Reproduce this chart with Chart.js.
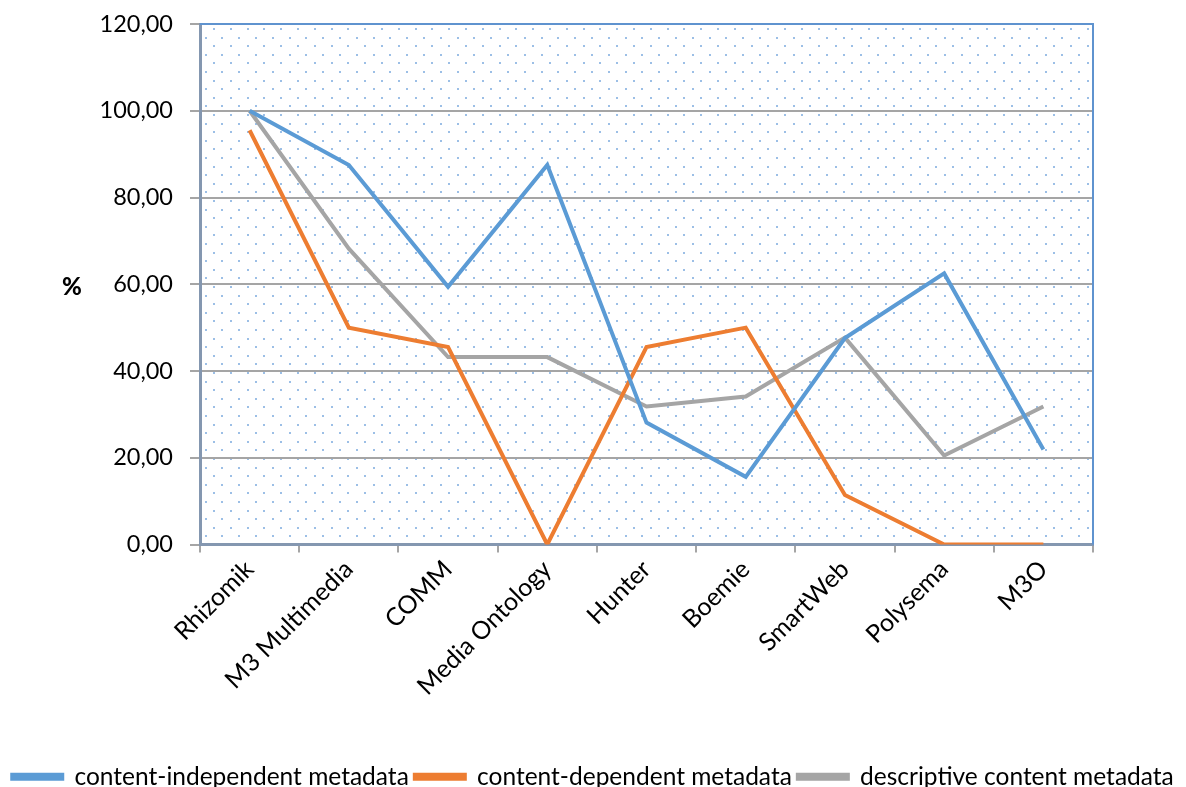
<!DOCTYPE html>
<html>
<head>
<meta charset="utf-8">
<script src="https://cdn.jsdelivr.net/npm/chart.js@4"></script>
<style>
  html, body { margin: 0; padding: 0; background: #fff; }
  #wrap { width: 1186px; height: 787px; }
</style>
</head>
<body>
<div id="wrap"><canvas id="chart"></canvas></div>
<script>
const CATEGORIES = ["Rhizomik", "M3 Multimedia", "COMM", "Media Ontology", "Hunter", "Boemie", "SmartWeb", "Polysema", "M3O"]

const INDEPENDENT = [100, 87.5, 59.4, 87.5, 28.1, 15.6, 47.6, 62.5, 21.9]
const DEPENDENT = [95.5, 50, 45.5, 0, 45.5, 50, 11.4, 0, 0]
const DESCRIPTIVE = [100, 68.2, 43.2, 43.2, 31.8, 34.1, 47.7, 20.5, 31.8]

const Y_TICKS = [0, 20, 40, 60, 80, 100, 120]

const BLUE = "#5b9bd5"
const ORANGE = "#ed7d31"
const GRAY = "#a5a5a5"
const AXIS = "#8497b0"
const FONT = "Lato, 'Open Sans', sans-serif"

Chart.defaults.font.family = FONT
Chart.defaults.color = "#000"

// dotted fill of the plot area, plus the blue frame on top and right
const backdrop = {
  id: "backdrop",
  beforeDraw: (chart) => {
    const { ctx } = chart
    const { left, right, top, bottom } = chart.chartArea

    ctx.save()
    ctx.fillStyle = "#9cbfe6"
    let row = 0
    for (let y = top + 4; y < bottom; y += 8.6) {
      const shift = row % 2 === 0 ? 13 : 4.6
      for (let x = left + shift; x < right; x += 16.8) {
        ctx.fillRect(Math.round(x), Math.round(y), 2, 2)
      }
      row++
    }
    ctx.restore()
  },
  afterDatasetsDraw: (chart) => {
    const { ctx } = chart
    const { left, right, top, bottom } = chart.chartArea

    ctx.save()
    ctx.strokeStyle = "#5f93cf"
    ctx.lineWidth = 2
    ctx.beginPath()
    ctx.moveTo(left, top)
    ctx.lineTo(right, top)
    ctx.lineTo(right, bottom)
    ctx.stroke()

    ctx.fillStyle = "#000"
    ctx.font = "900 24px " + FONT
    ctx.textAlign = "center"
    ctx.textBaseline = "middle"
    ctx.fillText("%", 72, 287)
    ctx.restore()
  },
}

const series = [
  ["content-independent metadata", INDEPENDENT, BLUE],
  ["content-dependent metadata", DEPENDENT, ORANGE],
  ["descriptive content metadata", DESCRIPTIVE, GRAY],
]

new Chart(document.getElementById("chart"), {
  type: "line",
  data: {
    labels: CATEGORIES,
    datasets: series.map(([label, data, color]) => ({
      label: label,
      data: data,
      borderColor: color,
      backgroundColor: color,
      borderWidth: 4,
      pointRadius: 0,
      tension: 0,
      borderJoinStyle: "miter",
    })),
  },
  options: {
    animation: false,
    responsive: true,
    maintainAspectRatio: false,
    layout: {
      padding: { top: 24, right: 0, bottom: -12, left: 0 },
    },
    plugins: {
      tooltip: { enabled: false },
      legend: {
        position: "bottom",
        labels: {
          boxWidth: 50,
          boxHeight: 4,
          padding: 6,
          font: { size: 24.5 },
          color: "#000",
        },
      },
    },
    scales: {
      x: {
        offset: true,
        grid: {
          offset: true,
          drawOnChartArea: false,
          drawTicks: true,
          tickLength: 8,
          color: "#a5a5a5",
          lineWidth: 2,
        },
        border: { color: AXIS, width: 3 },
        ticks: {
          minRotation: 45,
          maxRotation: 45,
          autoSkip: false,
          padding: 2,
          font: { size: 25 },
        },
        afterFit: (scale) => {
          scale.height = 214
        },
      },
      y: {
        min: 0,
        max: 120,
        afterBuildTicks: (scale) => {
          scale.ticks = Y_TICKS.map((v) => ({ value: v }))
        },
        grid: {
          color: "#a5a5a5",
          lineWidth: 2,
          tickLength: 10,
        },
        border: { color: AXIS, width: 3 },
        ticks: {
          padding: 17,
          font: { size: 23.5 },
          callback: (v) => v.toFixed(2).replace(".", ","),
        },
        afterFit: (scale) => {
          scale.width = 200
          // label padding would otherwise push the plot top down
          scale.paddingTop = 14
          scale.paddingBottom = 14
        },
      },
      // empty right-hand gutter so the legend can still use the full width
      gutter: {
        axis: "y",
        position: "right",
        grid: { display: false },
        border: { display: false },
        ticks: { display: false },
        afterFit: (scale) => {
          scale.width = 93
        },
      },
    },
  },
  plugins: [backdrop],
})
</script>
</body>
</html>
